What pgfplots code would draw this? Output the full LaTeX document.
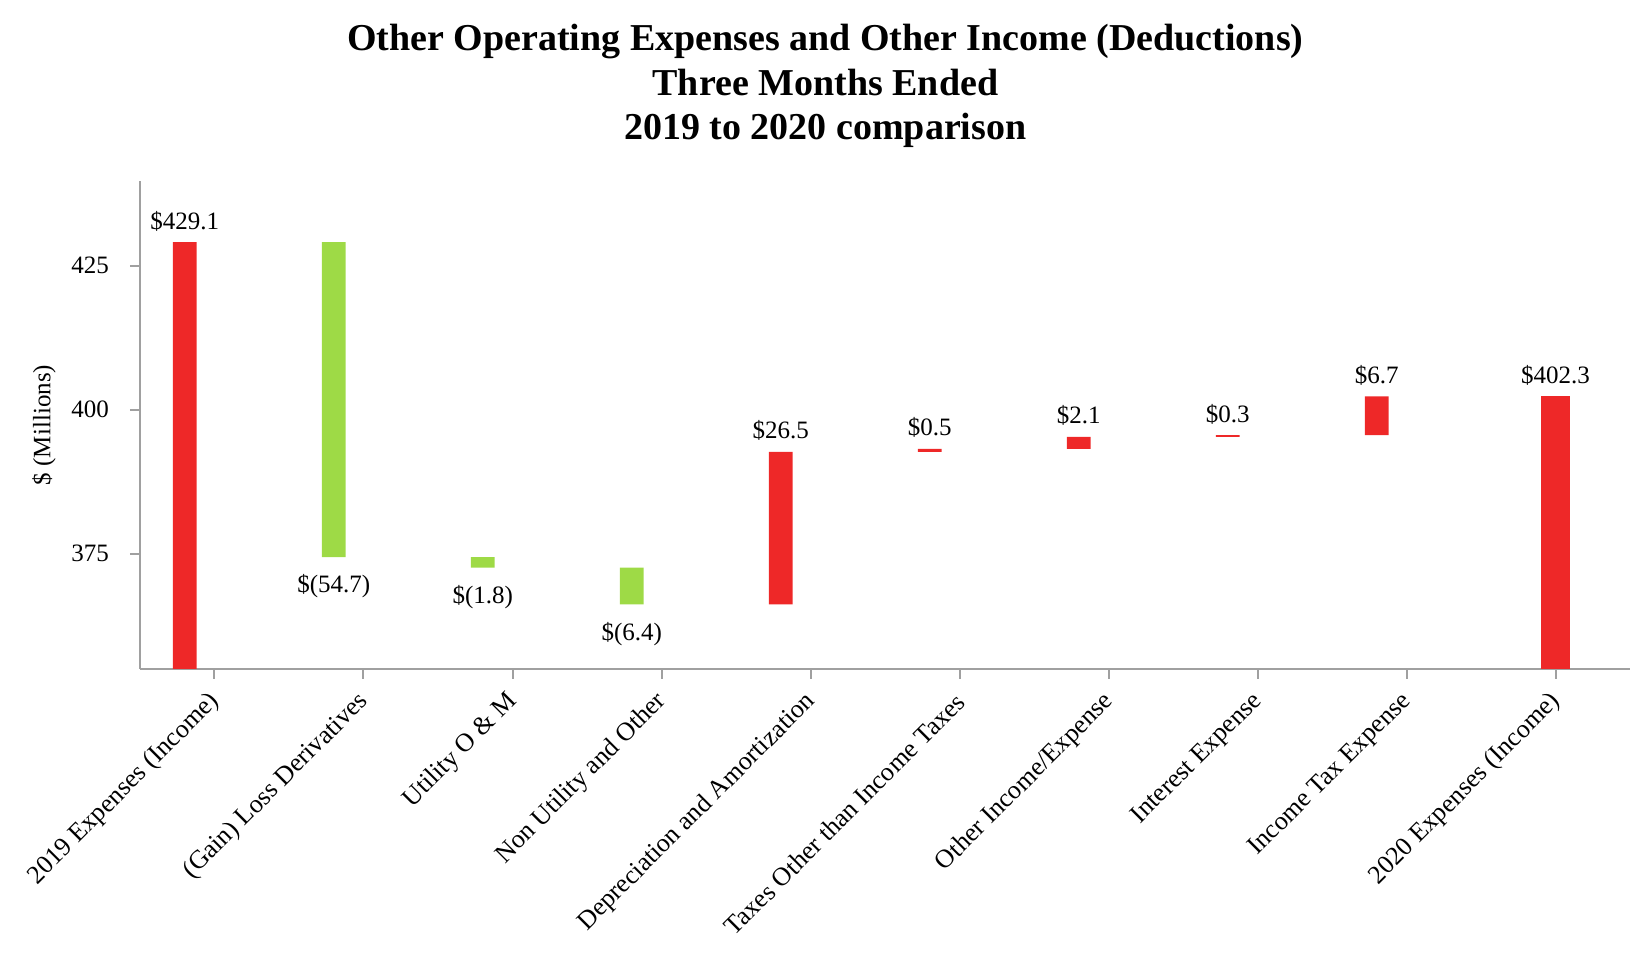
\documentclass[border=0pt]{standalone}
\usepackage{pgfplots}
\pgfplotsset{compat=1.18}
\usepackage{pgfplotstable}
\usepackage{fontspec}
\setmainfont{Liberation Serif}
\definecolor{barred}{HTML}{EE2828}
\definecolor{bargreen}{HTML}{9EDA46}
\definecolor{axgray}{HTML}{A0A0A0}

% waterfall: invisible base + red (increase) + green (decrease) + final total
\pgfplotstableread{
x    base   red    green  last
-0.2 0      429.1  0      0
0.8  374.4  0      54.7   0
1.8  372.6  0      1.8    0
2.8  366.2  0      6.4    0
3.8  366.2  26.5   0      0
4.8  392.7  0.5    0      0
5.8  393.2  2.1    0      0
6.8  395.3  0.3    0      0
7.8  395.6  6.7    0      0
9    0      0      0      402.3
}\datatable

\pgfplotstableread{
x    y      lab
-0.2 429.1  {\$429.1}
3.8  392.7  {\$26.5}
4.8  393.2  {\$0.5}
5.8  395.3  {\$2.1}
6.8  395.6  {\$0.3}
7.8  402.3  {\$6.7}
9    402.3  {\$402.3}
}\uplabels

\pgfplotstableread{
x    y      lab
0.8  374.4  {\$(54.7)}
1.8  372.6  {\$(1.8)}
2.8  366.2  {\$(6.4)}
}\downlabels

\pgfplotsset{
  common/.style={
    at={(0,0)}, anchor=south west,
    scale only axis, width=745pt, height=244pt,
    xmin=-0.5, xmax=9.5, ymin=355, ymax=439.7,
  }
}

\begin{document}
\begin{tikzpicture}
\begin{axis}[
  common, name=ax,
  ybar stacked,
  axis lines*=left,
  axis line style={axgray, line width=1pt},
  tick style={axgray, line width=1pt},
  tick align=outside, major tick length=5pt,
  xtick={0,...,9},
  xticklabels={2019 Expenses (Income), (Gain) Loss Derivatives, Utility O \& M, Non Utility and Other, Depreciation and Amortization, Taxes Other than Income Taxes, Other Income/Expense, Interest Expense, Income Tax Expense, 2020 Expenses (Income)},
  xticklabel style={xshift=3pt, yshift=-7pt, rotate=45, anchor=east, font=\fontsize{13}{15}\selectfont},
  ytick={375,400,425},
  yticklabel style={xshift=-7pt, font=\fontsize{12.5}{15}\selectfont},
  /pgf/number format/assume math mode=true,
  ylabel={\$ (Millions)},
  every axis y label/.style={at={(axis description cs:-0.0644,0.5)}, rotate=90, anchor=center, font=\fontsize{12.5}{15}\selectfont},
  title={Other Operating Expenses and Other Income (Deductions)\\Three Months Ended\\2019 to 2020 comparison},
  title style={font=\bfseries\fontsize{19}{22.3}\selectfont, align=center, at={(0.46,1)}, anchor=south, yshift=7pt},
]
\addplot[draw=none, fill=none, bar width=0.16] table[x=x, y=base] {\datatable};
\addplot[draw=none, fill=barred, bar width=0.16] table[x=x, y=red] {\datatable};
\addplot[draw=none, fill=bargreen, bar width=0.16] table[x=x, y=green] {\datatable};
\addplot[draw=none, fill=barred, bar width=0.2] table[x=x, y=last] {\datatable};
\end{axis}
\begin{axis}[
  common, hide axis,
  every node near coord/.append style={font=\fontsize{12.5}{15}\selectfont, text=black},
]
\addplot[draw=none, mark=none, point meta=explicit symbolic,
  nodes near coords, nodes near coords align={above},
  every node near coord/.append style={yshift=2pt}]
  table[x=x, y=y, meta=lab] {\uplabels};
\addplot[draw=none, mark=none, point meta=explicit symbolic,
  nodes near coords, nodes near coords align={below},
  every node near coord/.append style={yshift=-5.3pt}]
  table[x=x, y=y, meta=lab] {\downlabels};
\end{axis}
\pgfresetboundingbox
\path[use as bounding box] (-70pt,-145.5pt) rectangle (755pt,334.5pt);
\end{tikzpicture}
\end{document}
